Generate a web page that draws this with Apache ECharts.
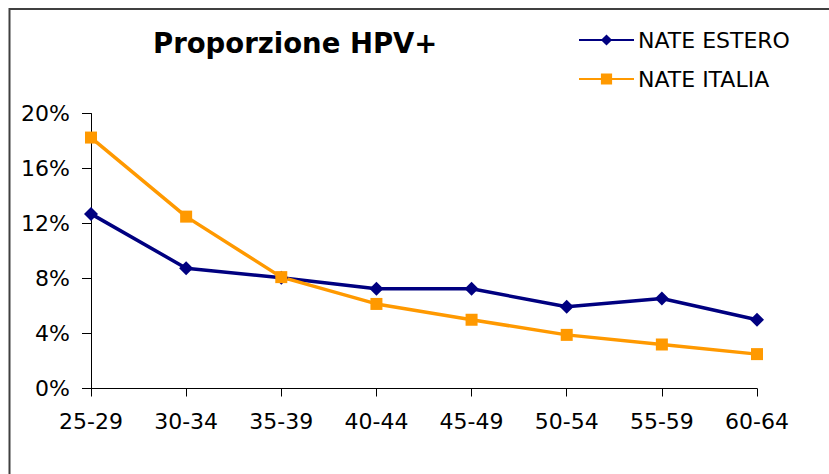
<!DOCTYPE html>
<html>
<head>
<meta charset="utf-8">
<script src="https://cdn.jsdelivr.net/npm/echarts@6/dist/echarts.min.js"></script>
<style>
  html, body { margin: 0; padding: 0; background: #fff; }
  #chart { width: 829px; height: 474px; }
</style>
</head>
<body>
<div id="chart"></div>
<script>
const ageGroups = ['25-29', '30-34', '35-39', '40-44', '45-49', '50-54', '55-59', '60-64'];
const nateEstero = [12.7, 8.75, 8.05, 7.25, 7.25, 5.95, 6.55, 5.0];
const nateItalia = [18.25, 12.5, 8.1, 6.15, 5.0, 3.9, 3.2, 2.5];
const yTicks = [0, 4, 8, 12, 16, 20];

const chart = echarts.init(document.getElementById('chart'), null, { renderer: 'svg' });

const labelFont = { fontFamily: 'DejaVu Sans', fontSize: 22, color: '#000' };

chart.setOption({
  animation: false,
  backgroundColor: '#fff',
  title: {
    text: 'Proporzione HPV+',
    left: 148,
    top: 24,
    textStyle: { fontFamily: 'DejaVu Sans', fontWeight: 'bold', fontSize: 27.5, color: '#000' }
  },
  legend: {
    orient: 'vertical',
    left: 578,
    top: 29,
    padding: 0,
    itemWidth: 55,
    itemHeight: 14,
    itemGap: 17,
    textStyle: Object.assign({}, labelFont, { fontSize: 22, padding: [0, 0, 0, -1] }),
    data: ['NATE ESTERO', 'NATE ITALIA']
  },
  grid: { left: 91, right: 72, top: 113.5, bottom: 85.5 },
  xAxis: {
    type: 'category',
    data: ageGroups,
    boundaryGap: false,
    axisLine: { lineStyle: { color: '#000', width: 1 } },
    axisTick: { length: 8, lineStyle: { color: '#000' } },
    axisLabel: Object.assign({ margin: 22 }, labelFont),
    splitLine: { show: false }
  },
  yAxis: {
    type: 'value',
    min: yTicks[0],
    max: yTicks[yTicks.length - 1],
    interval: yTicks[1] - yTicks[0],
    axisLine: { show: true, lineStyle: { color: '#000', width: 1 } },
    axisTick: { show: true, length: 9, lineStyle: { color: '#000' } },
    axisLabel: Object.assign({ margin: 21, formatter: '{value}%' }, labelFont),
    splitLine: { show: false }
  },
  series: [
    {
      name: 'NATE ESTERO',
      type: 'line',
      data: nateEstero,
      symbol: 'diamond',
      symbolSize: 14,
      color: '#000080',
      lineStyle: { width: 3.5, color: '#000080' },
      itemStyle: { color: '#000080' }
    },
    {
      name: 'NATE ITALIA',
      type: 'line',
      data: nateItalia,
      symbol: 'rect',
      symbolSize: 12,
      color: '#FF9900',
      lineStyle: { width: 3.5, color: '#FF9900' },
      itemStyle: { color: '#FF9900' }
    }
  ],
  graphic: [
    {
      type: 'rect',
      silent: true,
      shape: { x: 9.5, y: 9, width: 1000, height: 1000 },
      style: { fill: 'none', stroke: '#404040', lineWidth: 2 }
    }
  ]
});
</script>
</body>
</html>
